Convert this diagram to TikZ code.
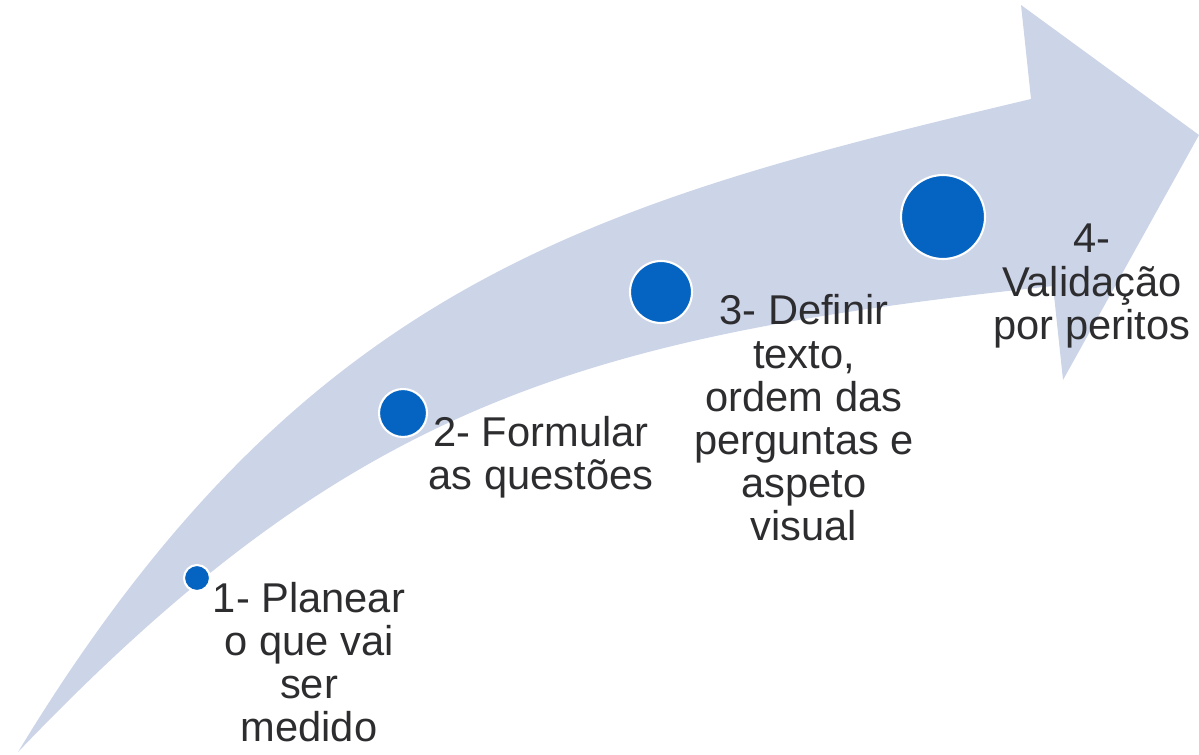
\documentclass[tikz,border=0pt]{standalone}
\usepackage{fontspec}
\setmainfont{Liberation Sans}
\definecolor{band}{RGB}{204,212,232}
\definecolor{dot}{RGB}{5,99,193}
\definecolor{txt}{RGB}{45,45,48}
\begin{document}
\begin{tikzpicture}[x=0.02cm,y=-0.02cm,
  dotstyle/.style={circle, fill=dot, draw=white, line width=1.2pt, inner sep=0pt},
  lbl/.style={align=center, text=txt, font=\fontsize{23.7}{24.6}\selectfont, inner sep=0pt}]
\useasboundingbox (0,0) rectangle (1199,754);
\fill[band] (18,752) .. controls (303,282) and (593,203) .. (1031,99)
  -- (1021,5) -- (1199,135) -- (1063,380) -- (1053,286)
  .. controls (576,337) and (349,406) .. (18,752) -- cycle;
\node[dotstyle, minimum size=0.52cm] (d1) at (197,578) {};
\node[dotstyle, minimum size=0.96cm] (d2) at (403,413) {};
\node[dotstyle, minimum size=1.24cm] (d3) at (661,292) {};
\node[dotstyle, minimum size=1.68cm] (d4) at (943,217) {};
\node[lbl] (t1) at (309,662) {1- Planear\\o que vai\\ser\\medido};
\node[lbl] (t2) at (541,457) {2- Formular\\as questões};
\node[lbl] (t3) at (804,418) {3- Definir\\texto,\\ordem das\\perguntas e\\aspeto\\visual};
\node[lbl] (t4) at (1092,286) {4-\\Validação\\por peritos};
\end{tikzpicture}
\end{document}
